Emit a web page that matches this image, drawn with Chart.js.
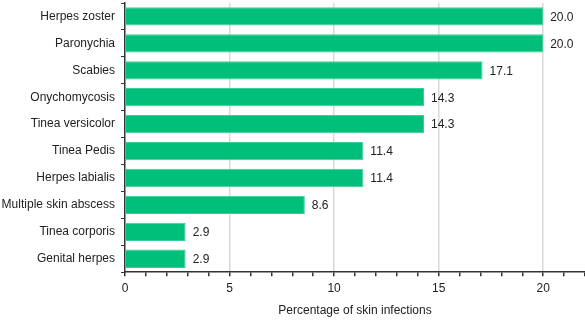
<!DOCTYPE html>
<html lang="en">
<head>
<meta charset="UTF-8">
<title>Skin infections</title>
<script src="https://cdn.jsdelivr.net/npm/chart.js"></script>
<style>
  html, body { margin: 0; padding: 0; background: #fff; }
  #wrap { width: 585px; height: 321px; position: relative; }
</style>
</head>
<body>
<div id="wrap"><canvas id="myChart"></canvas></div>
<script>
const infections = ['Herpes zoster', 'Paronychia', 'Scabies', 'Onychomycosis', 'Tinea versicolor',
    'Tinea Pedis', 'Herpes labialis', 'Multiple skin abscess', 'Tinea corporis', 'Genital herpes'];
const percentages = [20.0, 20.0, 17.1, 14.3, 14.3, 11.4, 11.4, 8.6, 2.9, 2.9];

const fontFamily = "'Liberation Sans Narrow', 'Arial Narrow', 'Liberation Sans', Arial, sans-serif";

// value labels at the end of each bar
const valueLabels = {
    id: 'valueLabels',
    afterDatasetsDraw(chart) {
        const ctx = chart.ctx;
        const meta = chart.getDatasetMeta(0);
        ctx.save();
        ctx.font = '12px ' + fontFamily;
        ctx.fillStyle = '#222';
        ctx.textAlign = 'left';
        ctx.textBaseline = 'middle';
        meta.data.forEach((bar, i) => {
            ctx.fillText(percentages[i].toFixed(1), bar.x + 7, bar.y + 1);
        });
        ctx.restore();
    }
};

const ctx = document.getElementById('myChart').getContext('2d');
const myChart = new Chart(ctx, {
    type: 'bar',
    data: {
        labels: infections,
        datasets: [{
            data: percentages,
            backgroundColor: 'rgb(0,191,122)',
            borderColor: 'rgb(60,205,150)',
            borderWidth: 1,
            barPercentage: 0.68,
            categoryPercentage: 1.0
        }]
    },
    options: {
        indexAxis: 'y',
        responsive: true,
        maintainAspectRatio: false,
        animation: false,
        layout: { padding: { top: 3, right: 0, left: 0, bottom: 0 } },
        plugins: {
            legend: { display: false },
            tooltip: { enabled: false }
        },
        scales: {
            x: {
                min: 0,
                max: 22,
                afterFit: (scale) => { scale.paddingRight = 0; scale.paddingLeft = 0; },
                border: { display: true, color: '#333', width: 1.5 },
                grid: {
                    color: (c) => (c.tick && c.tick.value % 5 === 0 && c.tick.value > 0) ? '#d9d9d9' : 'rgba(0,0,0,0)',
                    lineWidth: 1.5,
                    tickColor: '#333',
                    tickLength: 4,
                    drawTicks: true
                },
                ticks: {
                    stepSize: 1,
                    autoSkip: false,
                    maxRotation: 0,
                    color: '#222',
                    padding: 5,
                    font: { family: fontFamily, size: 12 },
                    callback: (v) => (v % 5 === 0 ? String(v) : '')
                },
                title: {
                    display: true,
                    text: 'Percentage of skin infections',
                    color: '#222',
                    font: { family: fontFamily, size: 12 },
                    padding: { top: 3, bottom: 3 }
                }
            },
            y: {
                afterFit: (scale) => { scale.width = 125; scale.paddingTop = 0; scale.paddingBottom = 0; },
                border: { display: true, color: '#333', width: 1.5 },
                grid: {
                    drawOnChartArea: false,
                    tickColor: '#333',
                    tickLength: 4
                },
                ticks: {
                    color: '#222',
                    padding: 6,
                    font: { family: fontFamily, size: 12 }
                }
            }
        }
    },
    plugins: [valueLabels]
});
</script>
</body>
</html>
